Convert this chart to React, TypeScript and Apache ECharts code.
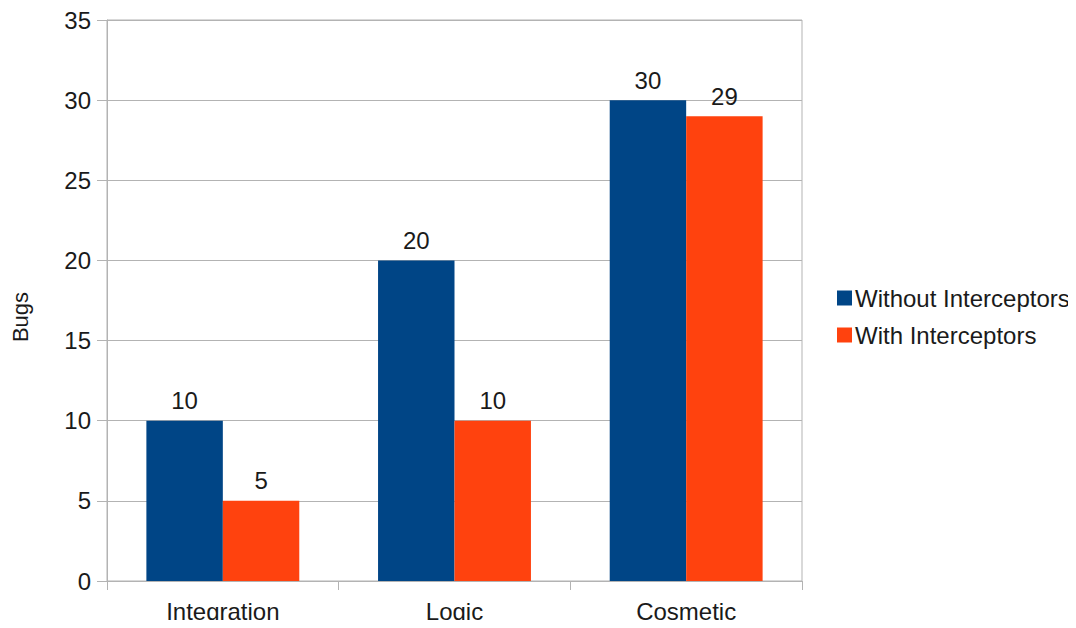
import React, { useEffect, useRef } from "react";
import * as echarts from "echarts";

const categories = ["Integration", "Logic", "Cosmetic"];
const withoutInterceptors = [10, 20, 30];
const withInterceptors = [5, 10, 29];
const seriesNames = ["Without Interceptors", "With Interceptors"];
const yAxisName = "Bugs";

const FONT = "'Liberation Sans', Arial, sans-serif";
const TXT = "#1a1a1a";
const GRID = "#b3b3b3";

export default function App() {
  const ref = useRef<HTMLDivElement>(null);
  useEffect(() => {
    if (!ref.current) return;
    const chart = echarts.init(ref.current, undefined, { renderer: "svg" });
    const labelStyle = {
      show: true,
      position: "top" as const,
      distance: 8,
      color: TXT,
      fontFamily: FONT,
      fontSize: 24,
    };
    chart.setOption({
      animation: false,
      textStyle: { fontFamily: FONT },
      grid: {
        left: 107,
        right: 274,
        top: 20,
        bottom: 47,
        show: true,
        borderColor: GRID,
        borderWidth: 1,
        containLabel: false,
      },
      graphic: [
        {
          type: "text",
          x: 20,
          y: 317,
          rotation: Math.PI / 2,
          style: {
            text: yAxisName,
            fill: TXT,
            font: `22px ${FONT}`,
            align: "center",
            verticalAlign: "middle",
          },
        },
      ],
      legend: {
        orient: "vertical",
        left: 832,
        top: 281,
        itemWidth: 15,
        itemHeight: 15,
        itemGap: 13,
        icon: "rect",
        textStyle: { color: TXT, fontSize: 24, fontFamily: FONT, padding: [0, 0, 0, -2] },
        data: seriesNames,
      },
      xAxis: {
        type: "category",
        data: categories,
        axisLine: { lineStyle: { color: GRID, width: 1 } },
        axisTick: { show: true, length: 9, lineStyle: { color: GRID } },
        axisLabel: { color: TXT, fontSize: 24, fontFamily: FONT, margin: 18 },
        splitLine: { show: false },
      },
      yAxis: {
        type: "value",
        min: 0,
        max: 35,
        interval: 5,
        axisLine: { show: true, lineStyle: { color: GRID, width: 1 } },
        axisTick: { show: true, length: 10, lineStyle: { color: GRID } },
        axisLabel: { color: TXT, fontSize: 24, fontFamily: FONT, margin: 16 },
        splitLine: { show: true, lineStyle: { color: GRID, width: 1 } },
      },
      series: [
        {
          name: seriesNames[0],
          type: "bar",
          data: withoutInterceptors,
          itemStyle: { color: "#004586" },
          barGap: "0%",
          barCategoryGap: "34%",
          label: labelStyle,
        },
        {
          name: seriesNames[1],
          type: "bar",
          data: withInterceptors,
          itemStyle: { color: "#ff420e" },
          barGap: "0%",
          barCategoryGap: "34%",
          label: labelStyle,
        },
      ],
    });
    return () => chart.dispose();
  }, []);
  return <div ref={ref} style={{ width: 1076, height: 628, margin: -8 }} />;
}
